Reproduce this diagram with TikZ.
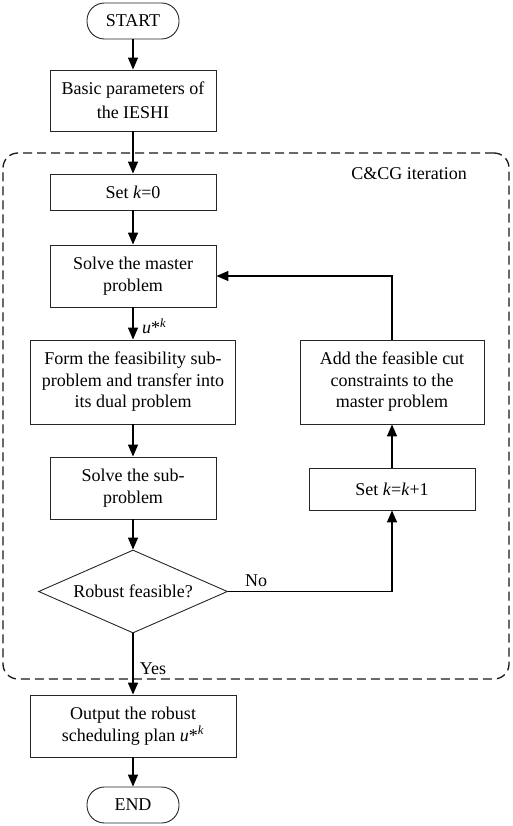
\documentclass[tikz,border=0pt]{standalone}
\usepackage{fontspec}
\setmainfont{Liberation Serif}
\usetikzlibrary{shapes.geometric,arrows.meta}
\begin{document}
\begin{tikzpicture}[x=1pt,y=-1pt,
  txt/.style={font=\fontsize{18}{21.5}\selectfont},
  box/.style={txt, draw=black!85, line width=0.9pt, align=center, inner sep=0pt},
  term/.style={box, rounded corners=17.5pt, minimum width=92pt, minimum height=36pt},
  arr/.style={line width=1.5pt, -{Triangle[length=12pt,width=10pt]}},
  lbl/.style={txt, inner sep=0pt}]
\useasboundingbox (0,0) rectangle (512,826);
\node[draw=black!90, line width=1.3pt, dash pattern=on 9pt off 5pt, rounded corners=15pt,
      minimum width=506pt, minimum height=526pt, inner sep=0pt] (frame) at (256,416) {};
\node[lbl] (cc) at (409,174) {C\&CG iteration};
\node[term] (start) at (133,21) {START};
\node[box, minimum width=166pt, minimum height=61pt, font=\fontsize{18}{24}\selectfont] (basic) at (133,100.5) {Basic parameters of\\the IESHI};
\node[box, minimum width=166pt, minimum height=36pt] (k0) at (133,192) {Set \textit{k}=0};
\node[box, minimum width=166pt, minimum height=62pt] (master) at (133,276) {Solve the master\\problem};
\node[box, minimum width=205pt, minimum height=84pt] (form) at (133,382) {Form the feasibility sub-\\problem and transfer into\\its dual problem};
\node[box, minimum width=184pt, minimum height=84pt] (add) at (392,382) {Add the feasible cut\\constraints to the\\master problem};
\node[box, minimum width=166pt, minimum height=62pt] (sub) at (133,488) {Solve the sub-\\problem};
\node[box, diamond, shape aspect=2.3, minimum width=189pt, minimum height=83pt] (dia) at (133,591.5) {Robust feasible?};
\node[box, minimum width=166pt, minimum height=42pt] (k1) at (392,489) {Set \textit{k}=\textit{k}+1};
\node[box, minimum width=206pt, minimum height=62pt] (out) at (133,726) {Output the robust\\scheduling plan \textit{u}*\textsuperscript{\textit{k}}};
\node[term] (end) at (133,805) {END};
\node[lbl, anchor=west] (ulbl) at (142,326) {\textit{u}*\textsuperscript{\textit{k}}};
\node[lbl] (no) at (256,581) {No};
\node[lbl] (yes) at (153,669) {Yes};
\draw[arr] (start) -- (basic);
\draw[arr] (basic) -- (k0);
\draw[arr] (k0) -- (master);
\draw[arr] (master) -- (form);
\draw[arr] (form) -- (sub);
\draw[arr] (sub) -- (dia);
\draw[arr] (dia) -- (out);
\draw[arr] (out) -- (end);
\draw[arr] (dia.east) -| (k1.south);
\draw[arr] (k1) -- (add);
\draw[arr] (add.north) |- (master.east);
\end{tikzpicture}
\end{document}
